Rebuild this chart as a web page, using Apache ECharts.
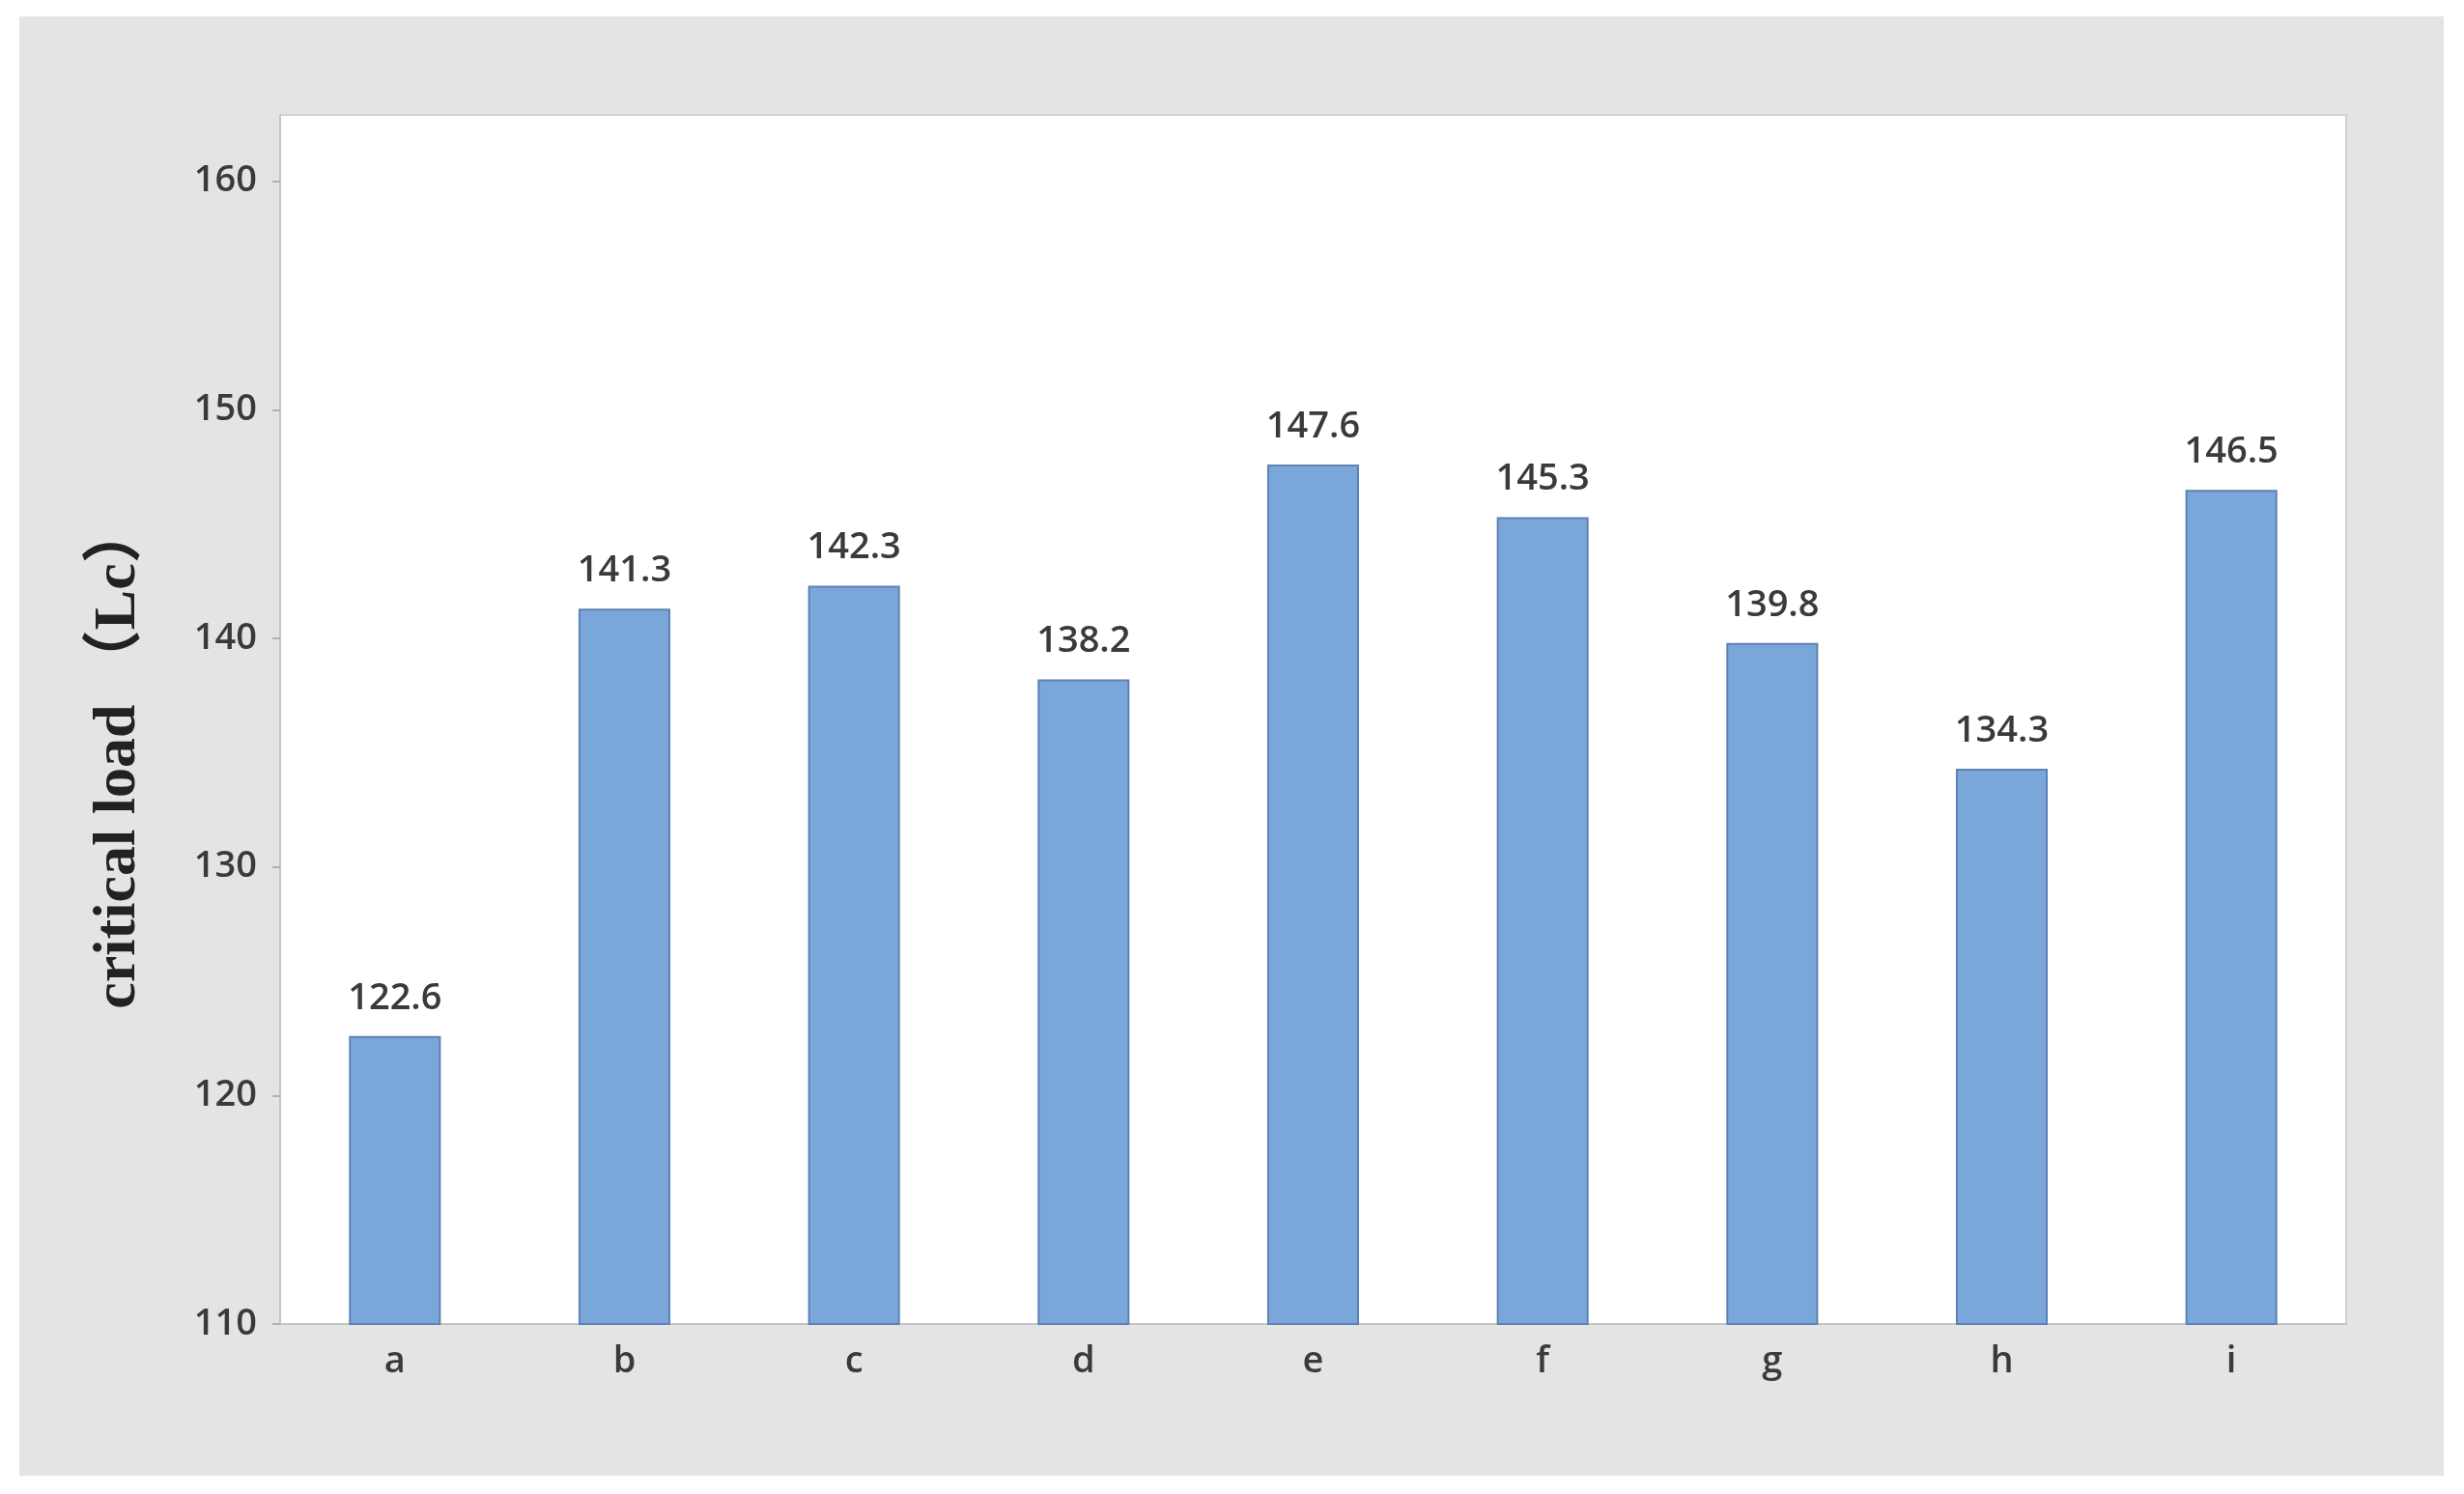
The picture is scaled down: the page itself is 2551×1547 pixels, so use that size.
<!DOCTYPE html>
<html>
<head>
<meta charset="utf-8">
<script src="https://cdn.jsdelivr.net/npm/echarts@6/dist/echarts.min.js"></script>
<style>
  html, body { margin: 0; padding: 0; background: #fff; }
  #main { width: 2551px; height: 1547px; }
</style>
</head>
<body>
<div id="main"></div>
<script>
var categories = ['a', 'b', 'c', 'd', 'e', 'f', 'g', 'h', 'i'];
var loads = [122.6, 141.3, 142.3, 138.2, 147.6, 145.3, 139.8, 134.3, 146.5];
var yTicks = [110, 120, 130, 140, 150, 160];

var myChart = echarts.init(document.getElementById('main'));

var option = {
  backgroundColor: '#fff',
  animation: false,
  graphic: [
    {
      type: 'rect',
      z: -10,
      shape: { x: 20, y: 17, width: 2510, height: 1511 },
      style: { fill: '#e4e4e4' }
    }
  ],
  grid: {
    left: 290, top: 119, right: 122, bottom: 176,
    show: true,
    backgroundColor: '#fff',
    borderColor: '#d2d2d2',
    borderWidth: 2
  },
  xAxis: {
    type: 'category',
    data: categories,
    axisLine: { lineStyle: { color: '#c4c4c4', width: 2 } },
    axisTick: { alignWithLabel: true, length: 10, lineStyle: { color: '#b0b0b0', width: 2 } },
    axisLabel: { margin: 20, fontSize: 38, fontWeight: 600, color: '#3a3a3a', fontFamily: 'Open Sans' }
  },
  yAxis: {
    type: 'value',
    min: 110,
    max: 162.9,
    interval: 10,
    name: 'critical load （Lc）',
    nameLocation: 'middle',
    nameGap: 136,
    nameTextStyle: {
      fontFamily: 'Liberation Serif, Noto Sans CJK SC',
      fontSize: 62,
      fontWeight: 'bold',
      color: '#222',
      padding: [0, 76, 0, 0]
    },
    splitLine: { show: false },
    axisLine: { show: true, lineStyle: { color: '#c4c4c4', width: 2 } },
    axisTick: { show: true, length: 8, customValues: yTicks, lineStyle: { color: '#b0b0b0', width: 2 } },
    axisLabel: { margin: 24, fontSize: 38, fontWeight: 600, color: '#3a3a3a', fontFamily: 'Open Sans', customValues: yTicks }
  },
  series: [
    {
      type: 'bar',
      data: loads,
      barWidth: '40%',
      itemStyle: { color: '#7ba6d9', borderColor: '#5d82b3', borderWidth: 2 },
      label: {
        show: true,
        position: 'top',
        distance: 20,
        fontSize: 38,
        fontWeight: 600,
        color: '#3a3a3a',
        fontFamily: 'Open Sans'
      }
    }
  ]
};

myChart.setOption(option);
</script>
</body>
</html>
